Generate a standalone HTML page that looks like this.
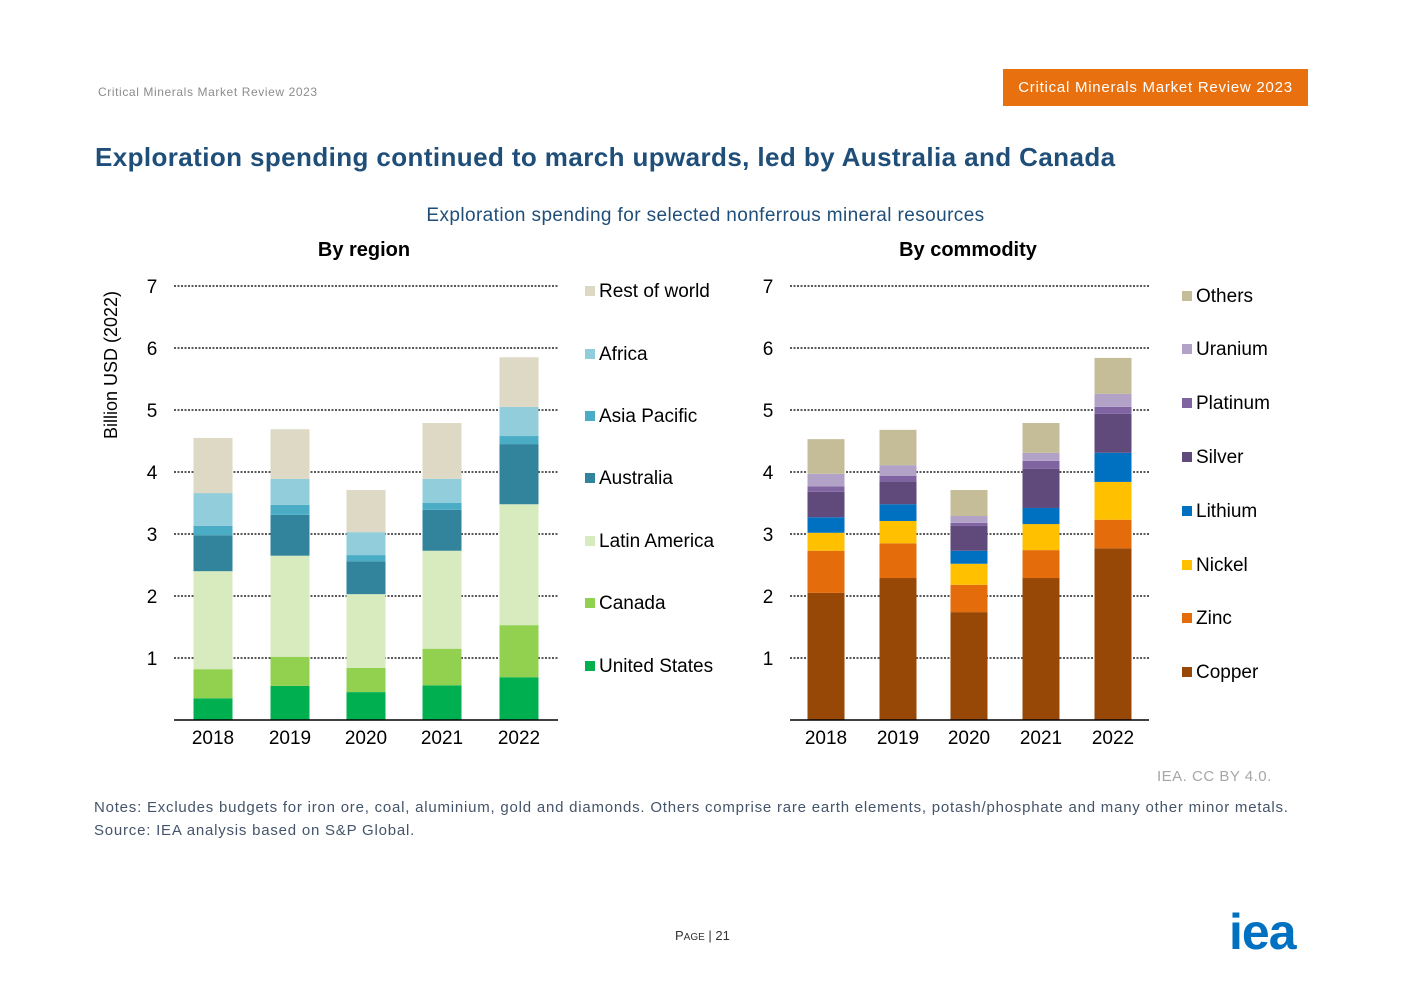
<!DOCTYPE html>
<html><head><meta charset="utf-8"><style>
body{margin:0;background:#fff;font-family:"Liberation Sans",sans-serif;}
#root{position:relative;width:1403px;height:992px;overflow:hidden;}
.abs{position:absolute;white-space:nowrap;}
</style></head><body>
<div id="root">
<div class="abs" style="left:98px;top:85px;font-size:12px;letter-spacing:0.6px;color:#8c8c8c;">Critical Minerals Market Review 2023</div>
<div class="abs" style="left:1003px;top:69px;width:305px;height:37px;background:#e8700e;color:#fff;font-size:15px;letter-spacing:0.75px;line-height:37px;text-align:center;">Critical Minerals Market Review 2023</div>
<div class="abs" style="left:95px;top:142px;font-size:26px;letter-spacing:0.4px;font-weight:bold;color:#1f4e79;">Exploration spending continued to march upwards, led by Australia and Canada</div>
<div class="abs" style="left:0;width:1411px;text-align:center;top:205px;font-size:19px;letter-spacing:0.4px;color:#1f4e79;">Exploration spending for selected nonferrous mineral resources</div>
<svg class="abs" style="left:0;top:0" width="1403" height="992" id="chart"></svg>
<div class="abs" style="left:1157px;top:768px;font-size:15px;letter-spacing:0.5px;color:#a6a6a6;">IEA. CC BY 4.0.</div>
<div class="abs" style="left:94px;top:796px;font-size:15px;letter-spacing:0.78px;color:#44546a;line-height:23px;">Notes: Excludes budgets for iron ore, coal, aluminium, gold and diamonds. Others comprise rare earth elements, potash/phosphate and many other minor metals.<br>Source: IEA analysis based on S&amp;P Global.</div>
<div class="abs" style="left:675px;top:928px;font-size:13px;color:#333;">P<span style="font-size:10px">AGE</span> | 21</div>
<div class="abs" style="left:1229px;top:903px;font-size:50px;font-weight:bold;color:#0070c0;letter-spacing:-1px;">iea</div>
</div>
<script>
const years=["2018","2019","2020","2021","2022"];
const yTicks=[1,2,3,4,5,6,7];
const regionNames=["United States","Canada","Latin America","Australia","Asia Pacific","Africa","Rest of world"];
const usVals=[0.35,0.55,0.45,0.56,0.69];
const canadaVals=[0.47,0.47,0.39,0.59,0.84];
const latamVals=[1.58,1.63,1.19,1.58,1.95];
const australiaVals=[0.58,0.66,0.53,0.66,0.97];
const asiaPacVals=[0.15,0.16,0.10,0.11,0.13];
const africaVals=[0.53,0.42,0.37,0.39,0.47];
const rowVals=[0.89,0.80,0.68,0.90,0.80];
const commodityNames=["Copper","Zinc","Nickel","Lithium","Silver","Platinum","Uranium","Others"];
const copperVals=[2.05,2.29,1.74,2.29,2.77];
const zincVals=[0.68,0.56,0.44,0.45,0.46];
const nickelVals=[0.29,0.36,0.34,0.42,0.61];
const lithiumVals=[0.25,0.27,0.21,0.26,0.47];
const silverVals=[0.41,0.37,0.40,0.63,0.63];
const platinumVals=[0.09,0.09,0.05,0.13,0.11];
const uraniumVals=[0.20,0.17,0.11,0.13,0.21];
const othersVals=[0.56,0.57,0.42,0.48,0.58];

const svg=document.getElementById('chart');
const NS="http://www.w3.org/2000/svg";
function mk(tag,attrs,name){const e=document.createElementNS(NS,tag);for(const k in attrs)e.setAttribute(k,attrs[k]);


svg.appendChild(e);return e;}
function txt(x,y,s,size,anchor,name,extra){const t=mk('text',Object.assign({x:x,y:y,'font-size':size,'text-anchor':anchor,fill:'#000','font-family':'Liberation Sans, sans-serif'},extra||{}),name);t.textContent=s;return t;}
const y0=720,pxU=62;
function yS(v){return y0-v*pxU;}
function panel(cfg){
  const {x0,x1,centers,bw,series,names,colors,legX,legY,title,titleX,tickX,key}=cfg;
  txt(titleX,256,title,20,'middle',key+'-title',{'font-weight':'bold'});
  yTicks.forEach(t=>{
    mk('line',{x1:x0,x2:x1,y1:yS(t),y2:yS(t),stroke:'#595959','stroke-width':2,'stroke-dasharray':'2,1.5'},key+'-gridline');
    txt(tickX,yS(t)+7,String(t),19,'middle',key+'-y-tick');
  });
  years.forEach((yr,i)=>{
    let c=0;
    series.forEach((s,j)=>{
      const v=s[i];
      mk('rect',{x:centers[i]-bw/2,y:yS(c+v),width:bw,height:v*pxU,fill:colors[j]},key+'-bar-'+names[j].toLowerCase().replace(/ /g,'-')+'-'+yr);
      c+=v;
    });
    txt(centers[i],744,yr,19,'middle',key+'-x-tick');
  });
  mk('line',{x1:x0,x2:x1,y1:y0,y2:y0,stroke:'#000','stroke-width':1.5},key+'-x-axis');
  names.forEach((n,j)=>{
    const y=legY[j];
    mk('rect',{x:legX,y:y-11,width:10,height:10,fill:colors[j]},key+'-legend-swatch');
    txt(legX+14,y,n,19,'start',key+'-legend-label');
  });
}
panel({key:'region',x0:174,x1:558,centers:[213,290,366,442,519],bw:39,
 series:[usVals,canadaVals,latamVals,australiaVals,asiaPacVals,africaVals,rowVals],
 names:regionNames,colors:['#00b050','#92d050','#d7ebbe','#31849b','#4bacc6','#92cddc','#ddd9c4'],
 legX:585,legY:[672,609,547,484,422,360,297],title:'By region',titleX:364,tickX:152});
panel({key:'commodity',x0:790,x1:1149,centers:[826,898,969,1041,1113],bw:37,
 series:[copperVals,zincVals,nickelVals,lithiumVals,silverVals,platinumVals,uraniumVals,othersVals],
 names:commodityNames,colors:['#974706','#e46c0a','#ffc000','#0070c0','#604a7b','#8064a2','#b3a2c7','#c4bd97'],
 legX:1182,legY:[678,624,571,517,463,409,355,302],title:'By commodity',titleX:968,tickX:768});
txt(117,365,'Billion USD (2022)',18,'middle','y-axis-title',{transform:'rotate(-90 117 365)'});
</script>
</body></html>
